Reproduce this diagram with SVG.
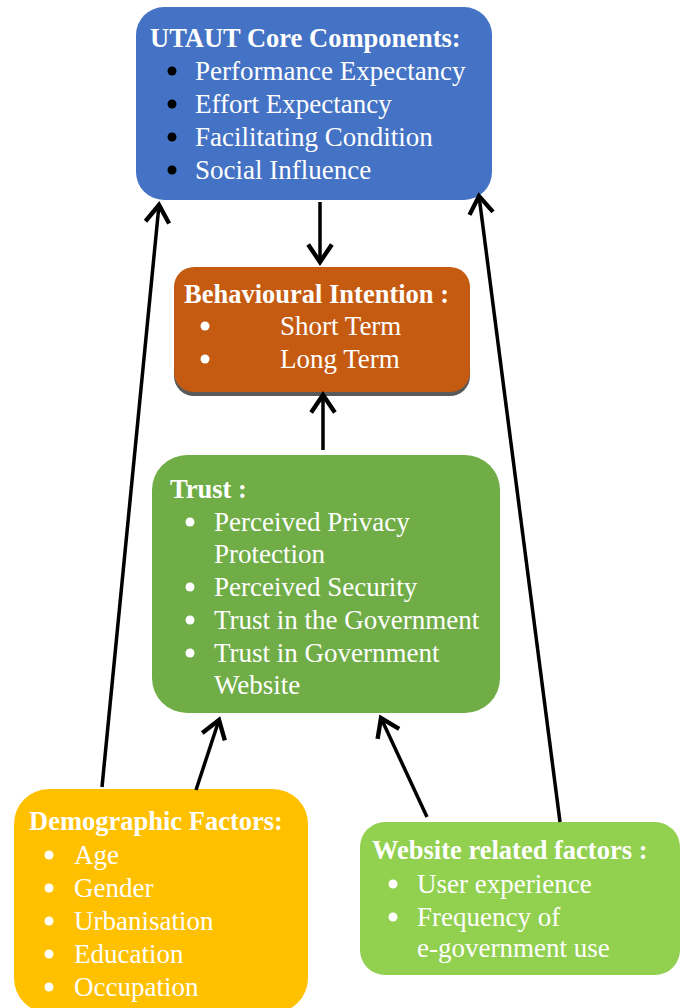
<svg xmlns="http://www.w3.org/2000/svg" width="683" height="1008" viewBox="0 0 683 1008">
<style>
.t{font-family:"Liberation Serif","Times New Roman",serif;font-size:27px;fill:#ffffff}
.b{font-weight:bold;font-size:26.5px}
.conn{stroke:#000;stroke-width:3.5;fill:none}
.wb{fill:#ffffff}
.kb{fill:#000000}
</style>
<defs>
<marker id="ah" markerUnits="userSpaceOnUse" markerWidth="30" markerHeight="30" viewBox="-16 -12 20 24" refX="0" refY="0" orient="auto">
<path d="M-14,-9.5 L0,0 L-14,9.5" fill="none" stroke="#000" stroke-width="3.5"/>
</marker>
</defs>
<rect width="683" height="1008" fill="#ffffff"/>
<g id="utaut">
<rect x="136" y="7" width="356" height="193" rx="28" fill="#4472C4"/>
<text class="t b" x="150" y="47">UTAUT Core Components:</text>
<circle class="kb" cx="172" cy="71" r="4.5"/><text class="t" x="195" y="80">Performance Expectancy</text>
<circle class="kb" cx="172" cy="104" r="4.5"/><text class="t" x="195" y="113">Effort Expectancy</text>
<circle class="kb" cx="172" cy="137" r="4.5"/><text class="t" x="195" y="146">Facilitating Condition</text>
<circle class="kb" cx="172" cy="170" r="4.5"/><text class="t" x="195" y="179">Social Influence</text>
</g>
<g id="intention">
<rect x="174" y="270" width="296" height="126" rx="20" fill="#5a5a5a"/>
<rect x="174" y="267" width="296" height="125" rx="20" fill="#C55A11"/>
<text class="t b" x="184" y="303">Behavioural Intention :</text>
<circle class="wb" cx="205" cy="326" r="4.5"/><text class="t" x="280" y="335">Short Term</text>
<circle class="wb" cx="205" cy="359" r="4.5"/><text class="t" x="280" y="368">Long Term</text>
</g>
<g id="trust">
<rect x="152" y="455" width="348" height="258" rx="35" fill="#70AD47"/>
<text class="t b" x="170" y="498">Trust :</text>
<circle class="wb" cx="190" cy="522" r="4.5"/><text class="t" x="214" y="531">Perceived Privacy</text>
<text class="t" x="214" y="563">Protection</text>
<circle class="wb" cx="190" cy="587" r="4.5"/><text class="t" x="214" y="596">Perceived Security</text>
<circle class="wb" cx="190" cy="620" r="4.5"/><text class="t" x="214" y="629">Trust in the Government</text>
<circle class="wb" cx="190" cy="653" r="4.5"/><text class="t" x="214" y="662">Trust in Government</text>
<text class="t" x="214" y="694">Website</text>
</g>
<g id="demographic">
<rect x="14" y="789" width="294" height="224" rx="35" fill="#FFC000"/>
<text class="t b" x="29" y="830">Demographic Factors:</text>
<circle class="wb" cx="49" cy="855" r="4.5"/><text class="t" x="74" y="864">Age</text>
<circle class="wb" cx="49" cy="888" r="4.5"/><text class="t" x="74" y="897">Gender</text>
<circle class="wb" cx="49" cy="921" r="4.5"/><text class="t" x="74" y="930">Urbanisation</text>
<circle class="wb" cx="49" cy="954" r="4.5"/><text class="t" x="74" y="963">Education</text>
<circle class="wb" cx="49" cy="987" r="4.5"/><text class="t" x="74" y="996">Occupation</text>
</g>
<g id="website">
<rect x="360" y="822" width="320" height="153" rx="25" fill="#92D050"/>
<text class="t b" x="372" y="859">Website related factors :</text>
<circle class="wb" cx="393" cy="884" r="4.5"/><text class="t" x="417" y="893">User experience</text>
<circle class="wb" cx="393" cy="917" r="4.5"/><text class="t" x="417" y="926">Frequency of</text>
<text class="t" x="417" y="957">e-government use</text>
</g>
<g id="connectors">
<line class="conn" x1="320" y1="202" x2="320" y2="262" marker-end="url(#ah)"/>
<line class="conn" x1="323" y1="450" x2="323" y2="395" marker-end="url(#ah)"/>
<line class="conn" x1="102" y1="787" x2="159" y2="205" marker-end="url(#ah)"/>
<line class="conn" x1="560" y1="822" x2="479" y2="196" marker-end="url(#ah)"/>
<line class="conn" x1="196" y1="790" x2="219" y2="720" marker-end="url(#ah)"/>
<line class="conn" x1="427" y1="817" x2="381" y2="718" marker-end="url(#ah)"/>
</g>
</svg>
